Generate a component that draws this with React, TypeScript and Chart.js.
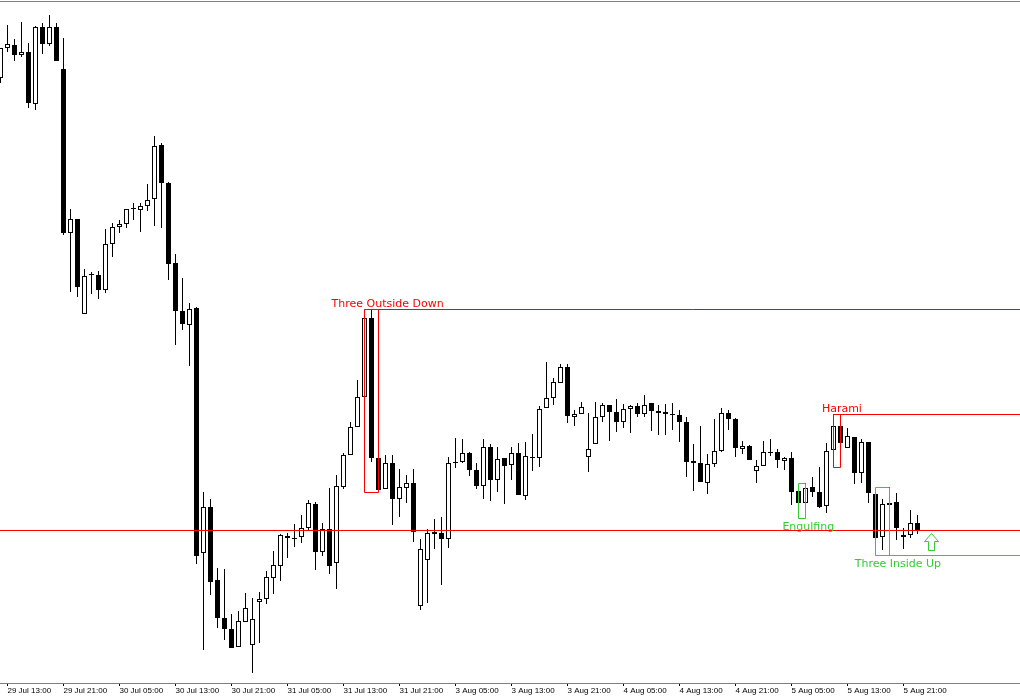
import React, { useEffect, useRef } from "react";
import { Chart, registerables } from "chart.js";

Chart.register(...registerables);

// Hourly candles, 29 Jul 12:00 .. 5 Aug 23:00 (price in chart points)
const opens = [
  622, 652, 655, 645, 648, 596, 673, 656, 673, 631,
  467, 481, 386, 426, 425, 410, 456, 473, 476, 492,
  490, 494, 501, 555, 517, 437, 389, 375, 392, 147,
  193, 120, 82, 71, 53, 78, 55, 98, 101, 122,
  134, 164, 162, 163, 172, 196, 148, 171, 137, 213,
  245, 273, 303, 382, 242, 211, 237, 201, 212, 217,
  94, 140, 168, 167, 161, 238, 238, 247, 230, 214,
  253, 220, 242, 235, 247, 204, 243, 242, 292, 302,
  317, 333, 283, 286, 243, 256, 283, 295, 288, 278,
  291, 294, 286, 297, 289, 288, 286, 285, 278, 239,
  237, 217, 236, 249, 287, 281, 251, 254, 229, 234,
  248, 248, 239, 242, 209, 197, 213, 208, 194, 250,
  274, 252, 263, 227, 258, 206, 163, 195, 198, 163,
  165, 177,
];
const highs = [
  652, 675, 661, 678, 657, 674, 677, 685, 677, 662,
  491, 481, 431, 428, 429, 471, 477, 480, 491, 497,
  497, 516, 564, 557, 518, 446, 422, 397, 393, 208,
  201, 132, 131, 86, 89, 107, 102, 108, 129, 149,
  166, 167, 176, 185, 200, 198, 177, 212, 225, 247,
  278, 320, 390, 390, 267, 245, 245, 231, 225, 231,
  161, 171, 181, 183, 243, 262, 261, 248, 237, 261,
  256, 253, 242, 253, 257, 258, 266, 294, 338, 322,
  336, 336, 290, 298, 287, 298, 297, 295, 301, 296,
  295, 297, 305, 297, 295, 296, 297, 290, 283, 256,
  274, 246, 281, 292, 290, 282, 259, 255, 240, 259,
  261, 251, 243, 248, 210, 217, 223, 233, 257, 286,
  286, 272, 263, 261, 258, 206, 201, 213, 207, 172,
  190, 185,
];
const lows = [
  617, 648, 639, 643, 592, 590, 646, 654, 639, 465,
  408, 403, 386, 406, 401, 407, 443, 467, 472, 480,
  468, 489, 474, 472, 420, 355, 370, 334, 136, 50,
  105, 72, 60, 52, 53, 78, 27, 57, 96, 106,
  119, 142, 153, 157, 170, 130, 144, 126, 111, 211,
  245, 273, 237, 238, 210, 211, 175, 183, 197, 158,
  90, 97, 151, 115, 152, 232, 237, 224, 211, 201,
  199, 208, 196, 220, 205, 200, 229, 233, 292, 295,
  317, 277, 274, 286, 228, 256, 278, 259, 268, 272,
  267, 283, 283, 269, 265, 265, 270, 258, 223, 209,
  218, 206, 233, 248, 270, 243, 246, 240, 217, 234,
  244, 232, 230, 195, 197, 197, 203, 192, 187, 250,
  234, 252, 216, 217, 197, 162, 150, 184, 160, 151,
  162, 166,
];
const closes = [
  652, 656, 645, 648, 597, 673, 656, 673, 639, 467,
  481, 413, 424, 425, 410, 456, 473, 476, 491, 491,
  494, 500, 554, 517, 436, 389, 376, 391, 144, 193,
  118, 82, 71, 52, 79, 92, 81, 101, 123, 135,
  165, 162, 161, 172, 197, 148, 171, 134, 214, 245,
  273, 303, 382, 242, 210, 237, 201, 213, 217, 168,
  151, 167, 166, 161, 237, 237, 247, 230, 214, 253,
  220, 241, 234, 247, 205, 244, 242, 291, 302, 318,
  333, 284, 286, 293, 251, 283, 295, 288, 278, 291,
  294, 286, 295, 289, 287, 286, 285, 278, 238, 237,
  218, 236, 249, 287, 281, 252, 254, 240, 234, 248,
  247, 240, 242, 208, 197, 212, 208, 193, 249, 274,
  257, 264, 227, 258, 207, 162, 196, 197, 172, 165,
  177, 170,
];

const tickIndices = [1, 9, 17, 25, 33, 41, 49, 57, 65, 73, 81, 89, 97, 105, 113, 121, 129];
const tickLabels = [
  "29 Jul 13:00", "29 Jul 21:00", "30 Jul 05:00", "30 Jul 13:00", "30 Jul 21:00",
  "31 Jul 05:00", "31 Jul 13:00", "31 Jul 21:00", "3 Aug 05:00", "3 Aug 13:00",
  "3 Aug 21:00", "4 Aug 05:00", "4 Aug 13:00", "4 Aug 21:00", "5 Aug 05:00",
  "5 Aug 13:00", "5 Aug 21:00",
];

const bidLevel = 170;

const RED = "#ff0000";
const GREEN = "#32cd32";

type Pattern = {
  name: string;
  from: number;
  to: number;
  top: number;
  bottom: number;
  color: string;
  line: "top" | "bottom" | null;
  labelAt: number;
  labelSide: "above" | "below";
};

const patterns: Pattern[] = [
  { name: "Three Outside Down", from: 52, to: 54, top: 391, bottom: 208, color: RED, line: "top", labelAt: 55.3, labelSide: "above" },
  { name: "Harami", from: 119, to: 120, top: 286, bottom: 233, color: RED, line: "top", labelAt: 120.2, labelSide: "above" },
  { name: "Engulfing", from: 114, to: 115, top: 217, bottom: 182, color: GREEN, line: null, labelAt: 115.4, labelSide: "below" },
  { name: "Three Inside Up", from: 125, to: 127, top: 213, bottom: 145, color: GREEN, line: "bottom", labelAt: 128.2, labelSide: "below" },
];

const arrowSignal = { index: 133, top: 167, bottom: 150, color: GREEN };

const crisp = (p: number) => Math.floor(p) + 0.5;

const overlayPlugin = {
  id: "overlay",
  afterDatasetsDraw(chart: any) {
    const { ctx, chartArea } = chart;
    const xs = chart.scales.x;
    const ys = chart.scales.y;
    ctx.save();
    ctx.lineWidth = 1;

    // bid line
    ctx.strokeStyle = RED;
    ctx.beginPath();
    const by = crisp(ys.getPixelForValue(bidLevel));
    ctx.moveTo(chartArea.left, by);
    ctx.lineTo(chartArea.right, by);
    ctx.stroke();

    patterns.forEach((p) => {
      const x0 = crisp(xs.getPixelForValue(p.from));
      const x1 = crisp(xs.getPixelForValue(p.to));
      const yt = crisp(ys.getPixelForValue(p.top));
      const yb = crisp(ys.getPixelForValue(p.bottom));
      ctx.strokeStyle = p.color;
      ctx.beginPath();
      ctx.rect(x0, yt, x1 - x0, yb - yt);
      ctx.stroke();
      if (p.line) {
        const ly = p.line === "top" ? yt : yb;
        ctx.beginPath();
        ctx.moveTo(x0, ly);
        ctx.lineTo(chartArea.right, ly);
        ctx.stroke();
      }
      ctx.fillStyle = p.color;
      ctx.font = '11px "DejaVu Sans"';
      ctx.textAlign = "center";
      ctx.textBaseline = "alphabetic";
      const lx = xs.getPixelForValue(p.labelAt);
      const baseY = p.labelSide === "above" ? yt - 2.5 : yb + 11.5;
      ctx.fillText(p.name, lx, baseY);
    });

    // up arrow signal
    const cx = xs.getPixelForValue(arrowSignal.index);
    const at = crisp(ys.getPixelForValue(arrowSignal.top));
    const ab = crisp(ys.getPixelForValue(arrowSignal.bottom));
    const hb = at + 8;
    const c = Math.floor(cx) + 0.5;
    ctx.strokeStyle = arrowSignal.color;
    ctx.beginPath();
    ctx.moveTo(c, at);
    ctx.lineTo(c + 7, hb);
    ctx.lineTo(c + 3, hb);
    ctx.lineTo(c + 3, ab);
    ctx.lineTo(c - 3, ab);
    ctx.lineTo(c - 3, hb);
    ctx.lineTo(c - 7, hb);
    ctx.closePath();
    ctx.stroke();

    // top frame line
    ctx.strokeStyle = "#808080";
    ctx.beginPath();
    ctx.moveTo(0, 1.5);
    ctx.lineTo(chart.width, 1.5);
    ctx.stroke();

    ctx.restore();
  },
};

export default function App() {
  const canvasRef = useRef<HTMLCanvasElement | null>(null);

  useEffect(() => {
    if (!canvasRef.current) return;
    const idx = opens.map((_, i) => i);
    const bodies = idx.map((i) => ({ x: i, y: [opens[i], closes[i]] }));
    const wicks = idx.map((i) => ({ x: i, y: [lows[i], highs[i]] }));
    const bodyColors = idx.map((i) => (closes[i] >= opens[i] ? "#ffffff" : "#000000"));

    const chart = new Chart(canvasRef.current, {
      type: "bar",
      data: {
        datasets: [
          {
            label: "body",
            data: bodies as any,
            backgroundColor: bodyColors,
            borderColor: "#000000",
            borderWidth: 1,
            borderSkipped: false,
            barThickness: 5,
            grouped: false,
            inflateAmount: 0,
            order: 0,
          } as any,
          {
            label: "wick",
            data: wicks as any,
            backgroundColor: "#000000",
            borderWidth: 0,
            barThickness: 1,
            grouped: false,
            inflateAmount: 0,
            order: 1,
          } as any,
        ],
      },
      options: {
        animation: false,
        responsive: false,
        devicePixelRatio: 1,
        layout: { padding: 0 },
        plugins: {
          legend: { display: false },
          tooltip: { enabled: false },
        },
        scales: {
          x: {
            type: "linear",
            offset: false,
            min: -1 / 14,
            max: 2039 / 14,
            afterBuildTicks: (scale: any) => {
              scale.ticks = tickIndices.map((v) => ({ value: v }));
            },
            afterFit: (scale: any) => {
              scale.height = 17;
              scale.paddingLeft = 0;
              scale.paddingRight = 0;
            },
            ticks: {
              autoSkip: false,
              maxRotation: 0,
              minRotation: 0,
              align: "start",
              padding: 0,
              color: "#000000",
              font: { family: "Liberation Sans", size: 8 },
              callback: (value: any) => {
                const k = tickIndices.indexOf(Number(value));
                return k >= 0 ? tickLabels[k] : "";
              },
            },
            grid: {
              display: true,
              offset: false,
              drawOnChartArea: false,
              drawTicks: true,
              tickLength: 3,
              color: "#000000",
            },
            border: { display: true, color: "#808080", width: 1 },
          } as any,
          y: {
            type: "linear",
            display: false,
            min: 17,
            max: 700,
          },
        },
      },
      plugins: [overlayPlugin],
    });
    return () => chart.destroy();
  }, []);

  return (
    <div style={{ position: "absolute", left: 0, top: 0, width: 1020, height: 700, background: "#ffffff" }}>
      <canvas ref={canvasRef} width={1020} height={700} style={{ width: 1020, height: 700, display: "block" }} />
    </div>
  );
}
